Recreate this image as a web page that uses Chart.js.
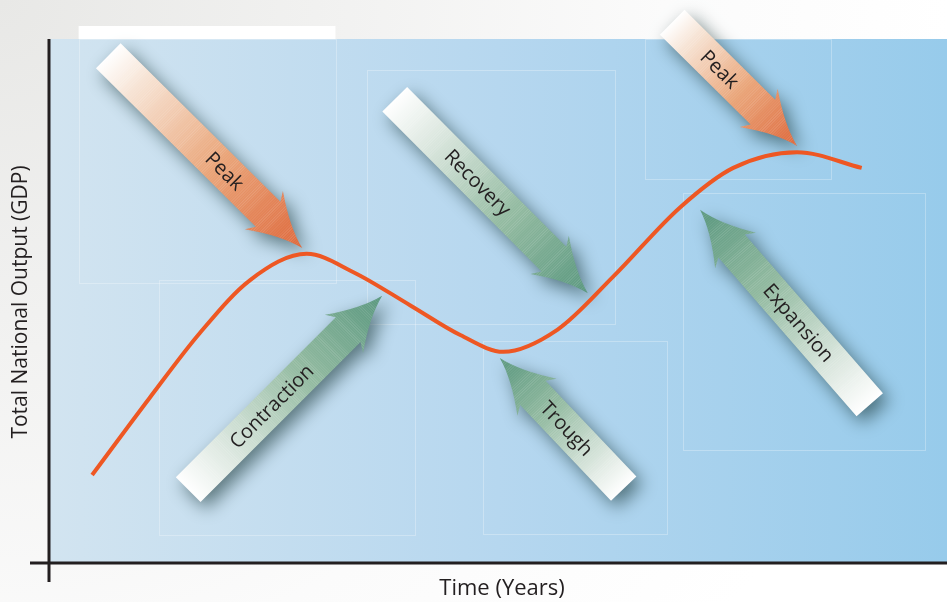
<!DOCTYPE html>
<html>
<head>
<meta charset="utf-8">
<title>Business Cycle</title>
<script src="https://cdn.jsdelivr.net/npm/chart.js@4.4.1/dist/chart.umd.min.js"></script>
<style>
  html, body { margin: 0; padding: 0; background: #fff; }
  #wrap { width: 947px; height: 602px; }
</style>
</head>
<body>
<div id="wrap"><canvas id="cycleChart"></canvas></div>
<script>
/********** DATA **********/
// GDP path over time (both on a 0-100 scale)
const years  = [4.8, 11.2, 16.8, 22.4, 28.7, 33.9, 40.2, 45.8, 50.6, 56.6, 62.8, 70.3, 76.2, 83.3, 90.5];
const output = [16.8, 31.5, 43.9, 54.0, 59.0, 55.5, 49.2, 43.5, 40.3, 44.5, 54.6, 67.9, 75.4, 78.4, 75.4];

// phase arrows, tail -> tip in data units
const phaseNames = ['Peak', 'Recovery', 'Peak', 'Contraction', 'Trough', 'Expansion'];
const phaseTail  = [[6.6, 96.8], [38.5, 88.5], [69.4, 103.2], [15.5, 14.0], [64.0, 14.2], [91.4, 30.2]];
const phaseTip   = [[28.2, 60.1], [60.0, 51.5], [83.3, 79.6], [37.1, 51.0], [50.2, 39.1], [72.5, 67.4]];
const phaseKind  = ['peak', 'move', 'peak', 'move', 'move', 'move'];

const xTitle = 'Time (Years)';
const yTitle = 'Total National Output (GDP)';

/********** STYLE **********/
const INK = '#231f20';
const CURVE = '#ee5723';
const LABEL_AT = [0.60, 0.43, 0.38, 0.43, 0.46, 0.42];   // label position along each arrow
const ARROW = { half: 17.5, headHalf: 27, headLen: 48, sweep: 6 };
const RAMPS = {
  peak: [[0, '#ffffff'], [0.15, '#f7e4d5'], [0.55, '#eaa67a'], [1, '#de683b']],
  move: [[0, '#ffffff'], [0.18, '#e0eae3'], [0.6, '#92baa0'], [1, '#59977e']]
};
// faint panel outlines in the backdrop, data units [x0, y0, x1, y1]
const PANELS = [[3.3, 100, 31.9, 53.4], [12.3, 54, 40.8, 5.3], [35.4, 94.1, 63.0, 45.6],
                [48.3, 42.4, 68.8, 5.5], [66.4, 100, 87.1, 73.3], [70.6, 70.6, 97.5, 21.6]];

/********** HELPERS **********/
function px(chart, p) {
  return [chart.scales.x.getPixelForValue(p[0]), chart.scales.y.getPixelForValue(p[1])];
}

function drawArrow(ctx, a, b, kind, label, at) {
  const dx = b[0] - a[0], dy = b[1] - a[1];
  const len = Math.hypot(dx, dy);
  const ang = Math.atan2(dy, dx);
  const w = ARROW.half, hw = ARROW.headHalf, hl = ARROW.headLen;
  const base = len - hl;

  ctx.save();
  ctx.translate(a[0], a[1]);
  ctx.rotate(ang);

  ctx.beginPath();
  ctx.moveTo(0, -w);
  ctx.lineTo(base, -w);
  ctx.lineTo(base - ARROW.sweep, -hw);
  ctx.quadraticCurveTo(len - hl * 0.5, -hw * 0.22, len, 0);
  ctx.quadraticCurveTo(len - hl * 0.5, hw * 0.22, base - ARROW.sweep, hw);
  ctx.lineTo(base, w);
  ctx.lineTo(0, w);
  ctx.closePath();

  const g = ctx.createLinearGradient(0, 0, len, 0);
  RAMPS[kind].forEach(s => g.addColorStop(s[0], s[1]));
  ctx.fillStyle = g;
  ctx.shadowColor = 'rgba(20,50,50,0.6)';
  ctx.shadowBlur = 18;
  ctx.shadowOffsetX = 6;
  ctx.shadowOffsetY = 7;
  ctx.fill();
  ctx.shadowColor = 'transparent';

  // fine streaks across the band
  ctx.save();
  ctx.clip();
  ctx.lineWidth = 1;
  for (let u = 2; u < len; u += 2) {
    const k = Math.abs(Math.sin(u * 0.37) * Math.cos(u * 0.11));
    ctx.strokeStyle = 'rgba(255,255,255,' + (0.05 + 0.12 * k).toFixed(3) + ')';
    ctx.beginPath();
    ctx.moveTo(u, -hw);
    ctx.lineTo(u, hw);
    ctx.stroke();
  }
  ctx.restore();

  // label
  ctx.translate(len * at, 0);
  if (Math.cos(ang) < 0) ctx.rotate(Math.PI);
  ctx.fillStyle = INK;
  ctx.font = '20px "Open Sans", sans-serif';
  ctx.textAlign = 'center';
  ctx.textBaseline = 'middle';
  ctx.fillText(label, 0, 1);
  ctx.restore();
}

/********** PLUGINS **********/
const backdrop = {
  id: 'backdrop',
  beforeDraw(chart) {
    const { ctx, chartArea: ca, width, height } = chart;
    ctx.save();
    // page
    const pg = ctx.createRadialGradient(0, 0, 0, 0, 0, 950);
    pg.addColorStop(0, '#e8e8e6');
    pg.addColorStop(0.7, '#fbfbfb');
    pg.addColorStop(1, '#ffffff');
    ctx.fillStyle = pg;
    ctx.fillRect(0, 0, width, height);

    // white strip over the first panel
    const s0 = px(chart, [PANELS[0][0], 100]), s1 = px(chart, [PANELS[0][2], 100]);
    ctx.fillStyle = '#ffffff';
    ctx.fillRect(s0[0], ca.top - 13, s1[0] - s0[0], 13);

    // plot field
    const bg = ctx.createLinearGradient(ca.left, 0, ca.right, 0);
    bg.addColorStop(0, '#d2e4f0');
    bg.addColorStop(0.5, '#b6d7ef');
    bg.addColorStop(1, '#97cbeb');
    ctx.fillStyle = bg;
    ctx.fillRect(ca.left, ca.top, ca.right - ca.left, ca.bottom - ca.top);

    ctx.strokeStyle = 'rgba(255,255,255,0.28)';
    ctx.lineWidth = 1;
    PANELS.forEach(r => {
      const p0 = px(chart, [r[0], r[1]]), p1 = px(chart, [r[2], r[3]]);
      ctx.strokeRect(Math.round(p0[0]) + 0.5, Math.round(p0[1]) + 0.5,
                     Math.round(p1[0] - p0[0]), Math.round(p1[1] - p0[1]));
    });
    ctx.restore();
  },
  beforeDatasetsDraw(chart) {
    const ctx = chart.ctx;
    phaseNames.forEach((name, i) => {
      drawArrow(ctx, px(chart, phaseTail[i]), px(chart, phaseTip[i]), phaseKind[i], name, LABEL_AT[i]);
    });
  },
  afterDraw(chart) {
    const { ctx, chartArea: ca } = chart;
    ctx.save();
    ctx.strokeStyle = INK;
    ctx.lineWidth = 3;
    ctx.beginPath();
    ctx.moveTo(ca.left, ca.top);
    ctx.lineTo(ca.left, ca.bottom + 19);
    ctx.moveTo(ca.left - 19, ca.bottom);
    ctx.lineTo(ca.right, ca.bottom);
    ctx.stroke();

    ctx.fillStyle = INK;
    ctx.textAlign = 'center';
    ctx.textBaseline = 'middle';
    ctx.font = '22px "Open Sans", sans-serif';
    ctx.fillText(xTitle, 502, ca.bottom + 26);
    ctx.font = '21px "Open Sans", sans-serif';
    ctx.translate(21, 302);
    ctx.rotate(-Math.PI / 2);
    ctx.fillText(yTitle, 0, 0);
    ctx.restore();
  }
};

/********** CHART **********/
new Chart(document.getElementById('cycleChart'), {
  type: 'line',
  data: {
    datasets: [{
      data: years.map((t, i) => ({ x: t, y: output[i] })),
      borderColor: CURVE,
      borderWidth: 4,
      pointRadius: 0,
      cubicInterpolationMode: 'monotone',
      fill: false
    }]
  },
  options: {
    responsive: true,
    maintainAspectRatio: false,
    animation: false,
    layout: { padding: { left: 49, top: 39, right: 0, bottom: 39 } },
    scales: {
      x: { type: 'linear', min: 0, max: 100, display: false },
      y: { type: 'linear', min: 0, max: 100, display: false }
    },
    plugins: { legend: { display: false }, tooltip: { enabled: false } }
  },
  plugins: [backdrop]
});
</script>
</body>
</html>
